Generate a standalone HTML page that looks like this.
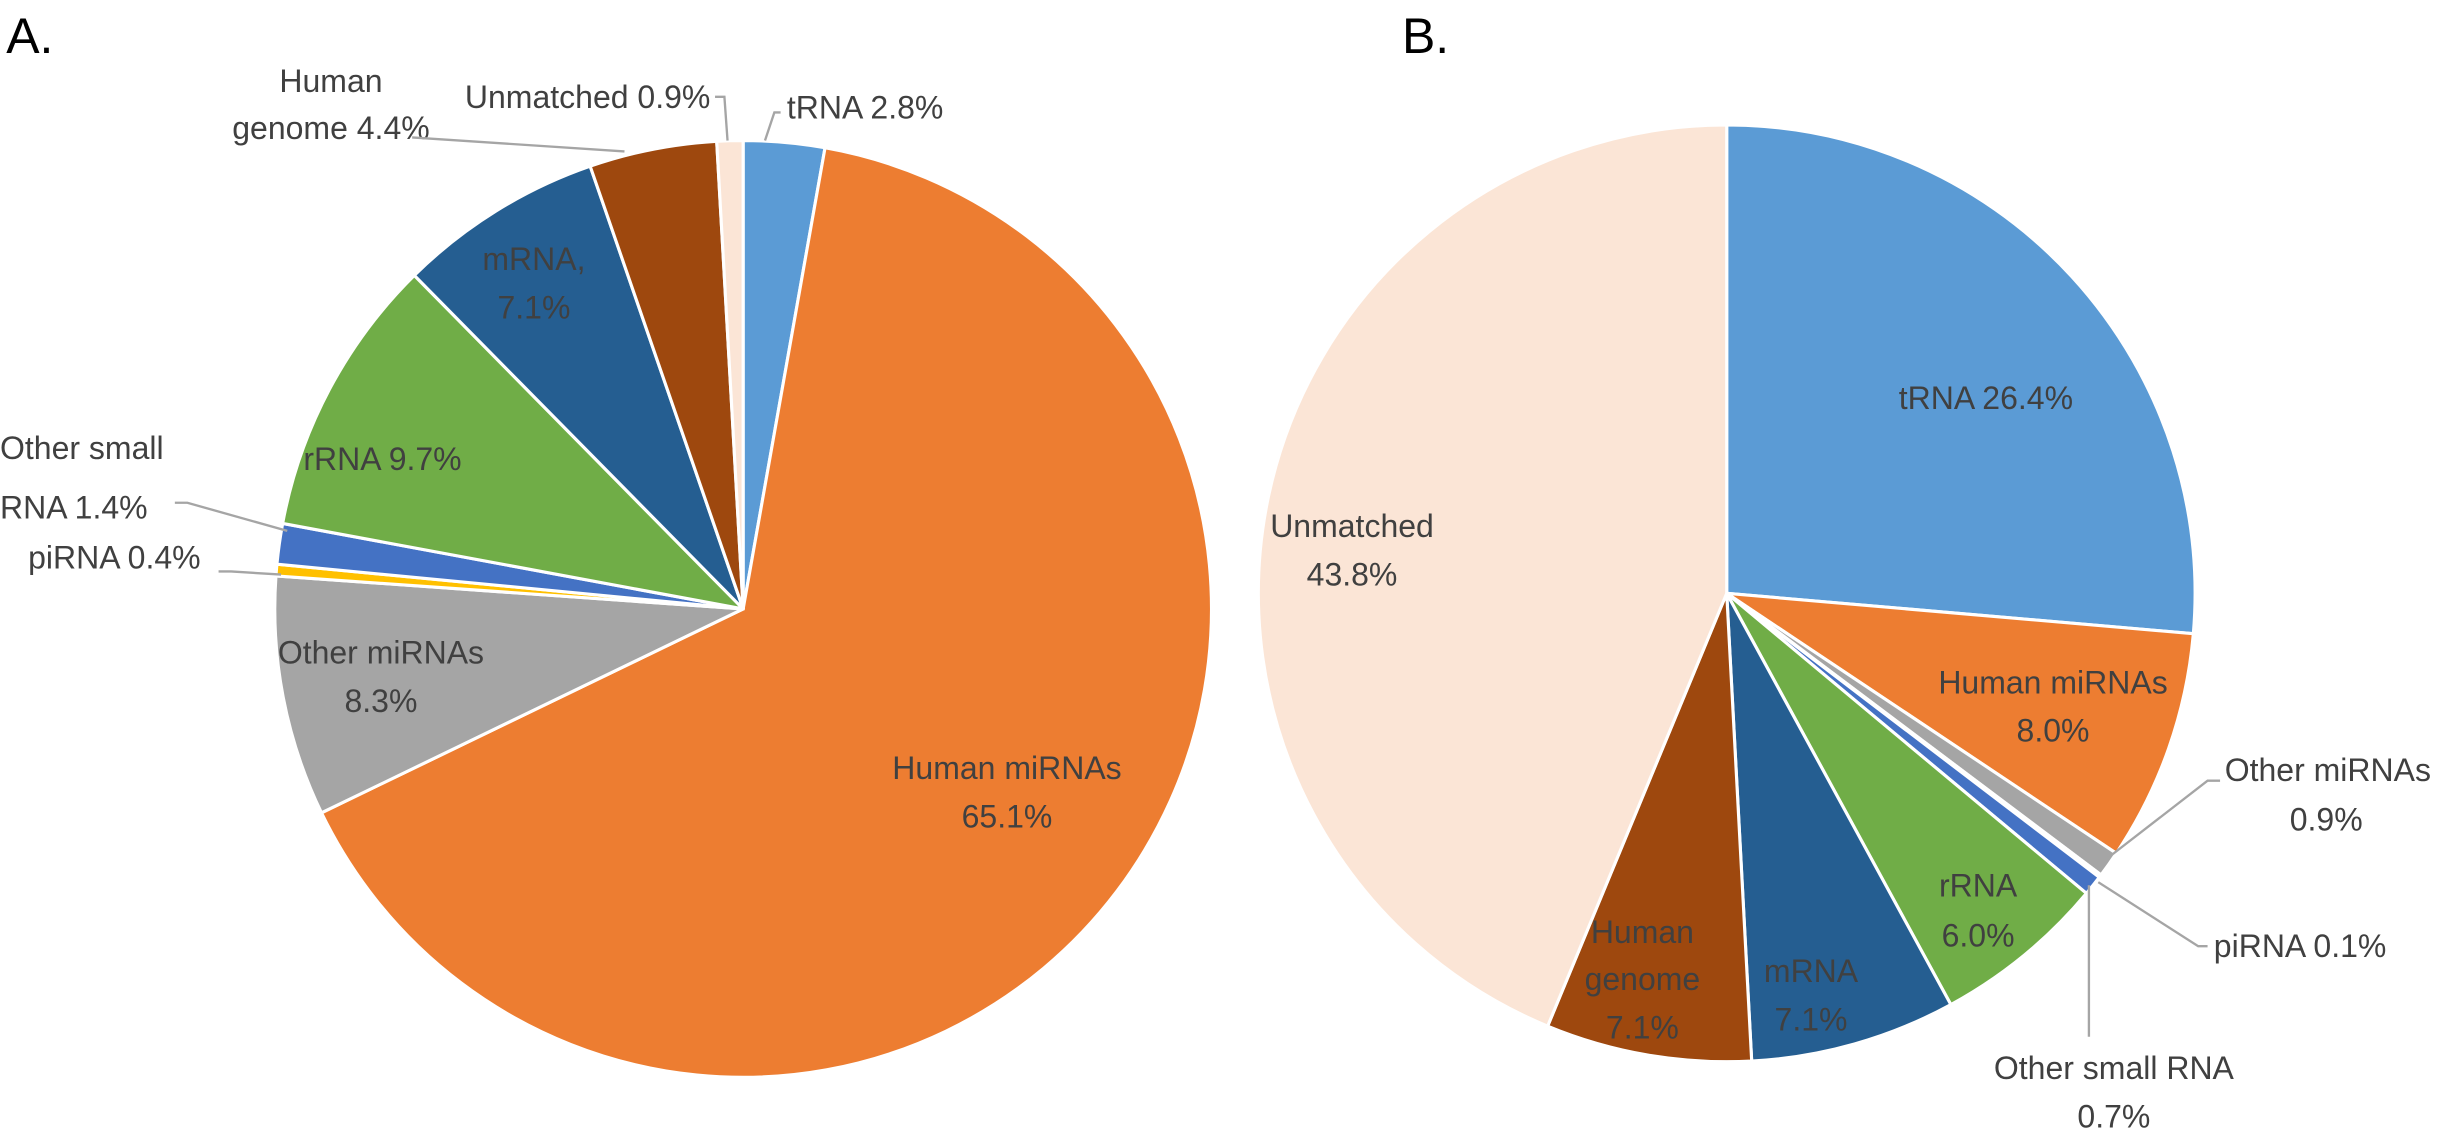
<!DOCTYPE html>
<html>
<head>
<meta charset="utf-8">
<style>
  html, body { margin: 0; padding: 0; background: #fff; }
  svg { display: block; font-family: "Liberation Sans", "DejaVu Sans", sans-serif; }
  .lbl { font-size: 20.5px; fill: #404040; }
  .ttl { font-size: 32px; fill: #000; }
</style>
</head>
<body>
<svg id="chart" width="2448" height="1132" viewBox="0 0 1568 725" preserveAspectRatio="none">
  <text class="ttl" x="4" y="34">A.</text>
  <text class="ttl" x="898" y="34">B.</text>
  <g id="pieA"></g>
  <g id="pieB"></g>
  <g id="labels">
    <polyline points="490,90 496,72 500,72" fill="none" stroke="#a5a5a5" stroke-width="1.5"/>
    <text class="lbl" x="504" y="69" dominant-baseline="central">tRNA 2.8%</text>
    <text class="lbl" x="455" y="62" text-anchor="end" dominant-baseline="central">Unmatched 0.9%</text>
    <polyline points="458,62 464,62 466,90" fill="none" stroke="#a5a5a5" stroke-width="1.5"/>
    <text class="lbl" x="212" y="52" text-anchor="middle" dominant-baseline="central">Human</text>
    <text class="lbl" x="212" y="82" text-anchor="middle" dominant-baseline="central">genome 4.4%</text>
    <polyline points="264,88 400,97" fill="none" stroke="#a5a5a5" stroke-width="1.5"/>
    <text class="lbl" x="342" y="166" text-anchor="middle" dominant-baseline="central">mRNA,</text>
    <text class="lbl" x="342" y="197" text-anchor="middle" dominant-baseline="central">7.1%</text>
    <text class="lbl" x="245" y="294" text-anchor="middle" dominant-baseline="central">rRNA 9.7%</text>
    <text class="lbl" x="0" y="287" dominant-baseline="central">Other small</text>
    <text class="lbl" x="0" y="325" dominant-baseline="central">RNA 1.4%</text>
    <polyline points="112,322 120,322 184,340" fill="none" stroke="#a5a5a5" stroke-width="1.5"/>
    <text class="lbl" x="18" y="357" dominant-baseline="central">piRNA 0.4%</text>
    <polyline points="140,366 148,366 180,368" fill="none" stroke="#a5a5a5" stroke-width="1.5"/>
    <text class="lbl" x="244" y="418" text-anchor="middle" dominant-baseline="central">Other miRNAs</text>
    <text class="lbl" x="244" y="449" text-anchor="middle" dominant-baseline="central">8.3%</text>
    <text class="lbl" x="645" y="492" text-anchor="middle" dominant-baseline="central">Human miRNAs</text>
    <text class="lbl" x="645" y="523" text-anchor="middle" dominant-baseline="central">65.1%</text>
    <text class="lbl" x="1272" y="255" text-anchor="middle" dominant-baseline="central">tRNA 26.4%</text>
    <text class="lbl" x="866" y="337" text-anchor="middle" dominant-baseline="central">Unmatched</text>
    <text class="lbl" x="866" y="368" text-anchor="middle" dominant-baseline="central">43.8%</text>
    <text class="lbl" x="1315" y="437" text-anchor="middle" dominant-baseline="central">Human miRNAs</text>
    <text class="lbl" x="1315" y="468" text-anchor="middle" dominant-baseline="central">8.0%</text>
    <text class="lbl" x="1425" y="493" dominant-baseline="central">Other miRNAs</text>
    <text class="lbl" x="1490" y="525" text-anchor="middle" dominant-baseline="central">0.9%</text>
    <polyline points="1352,548 1414,500 1422,500" fill="none" stroke="#a5a5a5" stroke-width="1.5"/>
    <text class="lbl" x="1418" y="606" dominant-baseline="central">piRNA 0.1%</text>
    <polyline points="1344,565 1408,606 1414,606" fill="none" stroke="#a5a5a5" stroke-width="1.5"/>
    <text class="lbl" x="1354" y="684" text-anchor="middle" dominant-baseline="central">Other small RNA</text>
    <text class="lbl" x="1354" y="715" text-anchor="middle" dominant-baseline="central">0.7%</text>
    <polyline points="1338,567 1338,664" fill="none" stroke="#a5a5a5" stroke-width="1.5"/>
    <text class="lbl" x="1267" y="567" text-anchor="middle" dominant-baseline="central">rRNA</text>
    <text class="lbl" x="1267" y="599" text-anchor="middle" dominant-baseline="central">6.0%</text>
    <text class="lbl" x="1160" y="622" text-anchor="middle" dominant-baseline="central">mRNA</text>
    <text class="lbl" x="1160" y="653" text-anchor="middle" dominant-baseline="central">7.1%</text>
    <text class="lbl" x="1052" y="597" text-anchor="middle" dominant-baseline="central">Human</text>
    <text class="lbl" x="1052" y="627" text-anchor="middle" dominant-baseline="central">genome</text>
    <text class="lbl" x="1052" y="658" text-anchor="middle" dominant-baseline="central">7.1%</text>
  </g>
</svg>
<script>
const categories = ["tRNA", "Human miRNAs", "Other miRNAs", "piRNA", "Other small RNA", "rRNA", "mRNA", "Human genome", "Unmatched"];
const valuesA = [2.8, 65.1, 8.3, 0.4, 1.4, 9.7, 7.1, 4.4, 0.9];
const valuesB = [26.4, 8.0, 0.9, 0.1, 0.7, 6.0, 7.1, 7.1, 43.8];
const colors = ["#5B9BD5", "#ED7D31", "#A5A5A5", "#FFC000", "#4472C4", "#70AD47", "#255E91", "#9E480E", "#FBE5D6"];

function drawPie(gId, values, cx, cy, r, prefix) {
  const g = document.getElementById(gId);
  const total = values.reduce((a, b) => a + b, 0);
  let acc = 0;
  values.forEach((v, i) => {
    const a0 = acc / total * 2 * Math.PI;
    acc += v;
    const a1 = acc / total * 2 * Math.PI;
    const x0 = cx + r * Math.sin(a0), y0 = cy - r * Math.cos(a0);
    const x1 = cx + r * Math.sin(a1), y1 = cy - r * Math.cos(a1);
    const large = (a1 - a0) > Math.PI ? 1 : 0;
    const p = document.createElementNS("http://www.w3.org/2000/svg", "path");
    p.setAttribute("d", `M${cx},${cy} L${x0},${y0} A${r},${r} 0 ${large} 1 ${x1},${y1} Z`);
    p.setAttribute("fill", colors[i]);
    p.setAttribute("stroke", "#fff");
    p.setAttribute("stroke-width", "2");
    p.setAttribute("stroke-linejoin", "round");
    
    
    g.appendChild(p);
  });
}
drawPie("pieA", valuesA, 476, 390, 300, "a");
drawPie("pieB", valuesB, 1106, 380, 300, "b");
</script>
</body>
</html>
